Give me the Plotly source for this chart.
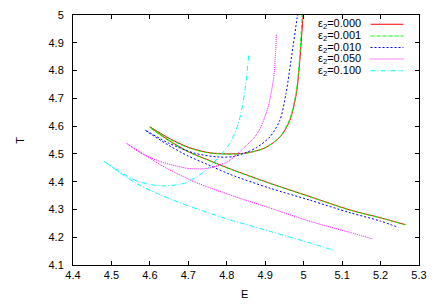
import plotly.graph_objects as go

# ---- data ----
labels = ["ε<sub>2</sub>=0.000", "ε<sub>2</sub>=0.001", "ε<sub>2</sub>=0.010",
          "ε<sub>2</sub>=0.050", "ε<sub>2</sub>=0.100"]

# eps2 = 0.000
E0_up = [4.600, 4.650, 4.700, 4.750, 4.800, 4.850, 4.900, 4.940, 4.964, 4.981, 4.990, 4.997, 5.001]
T0_up = [4.597, 4.556, 4.524, 4.505, 4.500, 4.503, 4.522, 4.563, 4.621, 4.717, 4.836, 4.970, 5.050]
E0_lo = [4.600, 4.650, 4.700, 4.741, 4.809, 4.913, 5.017, 5.121, 5.200, 5.265]
T0_lo = [4.597, 4.548, 4.508, 4.484, 4.446, 4.394, 4.346, 4.298, 4.270, 4.245]

# eps2 = 0.001
E1_up = [4.599, 4.650, 4.700, 4.750, 4.800, 4.850, 4.900, 4.939, 4.963, 4.980, 4.989, 4.995, 4.999]
T1_up = [4.596, 4.554, 4.522, 4.504, 4.499, 4.502, 4.522, 4.563, 4.622, 4.718, 4.838, 4.975, 5.050]
E1_lo = [4.599, 4.650, 4.700, 4.741, 4.809, 4.913, 5.017, 5.121, 5.200, 5.263]
T1_lo = [4.596, 4.546, 4.507, 4.483, 4.445, 4.393, 4.345, 4.297, 4.269, 4.245]

# eps2 = 0.010
E2_up = [4.588, 4.650, 4.715, 4.776, 4.815, 4.850, 4.878, 4.912, 4.938, 4.954, 4.967, 4.983, 4.986]
T2_up = [4.585, 4.538, 4.503, 4.489, 4.490, 4.505, 4.523, 4.561, 4.621, 4.717, 4.836, 4.990, 5.020]
E2_lo = [4.588, 4.650, 4.700, 4.750, 4.809, 4.913, 5.017, 5.121, 5.200, 5.247]
T2_lo = [4.585, 4.530, 4.492, 4.462, 4.426, 4.376, 4.333, 4.288, 4.258, 4.235]

# eps2 = 0.050
E3_up = [4.539, 4.580, 4.628, 4.698, 4.750, 4.802, 4.843, 4.879, 4.905, 4.922, 4.929]
T3_up = [4.538, 4.500, 4.472, 4.448, 4.448, 4.472, 4.520, 4.573, 4.657, 4.775, 4.929]
E3_lo = [4.539, 4.600, 4.628, 4.715, 4.809, 4.913, 5.017, 5.121, 5.180]
T3_lo = [4.538, 4.485, 4.460, 4.400, 4.352, 4.305, 4.257, 4.217, 4.194]

# eps2 = 0.100
E4_up = [4.479, 4.520, 4.567, 4.600, 4.637, 4.689, 4.741, 4.784, 4.808, 4.830, 4.846, 4.857]
T4_up = [4.475, 4.437, 4.402, 4.390, 4.385, 4.394, 4.436, 4.496, 4.538, 4.609, 4.717, 4.854]
E4_lo = [4.479, 4.520, 4.567, 4.628, 4.700, 4.763, 4.809, 4.913, 5.017, 5.080]
T4_lo = [4.475, 4.434, 4.392, 4.352, 4.313, 4.283, 4.262, 4.221, 4.179, 4.152]

x_ticks = [4.4, 4.5, 4.6, 4.7, 4.8, 4.9, 5.0, 5.1, 5.2, 5.3]
x_ticktext = ["4.4", "4.5", "4.6", "4.7", "4.8", "4.9", "5", "5.1", "5.2", "5.3"]
y_ticks = [4.1, 4.2, 4.3, 4.4, 4.5, 4.6, 4.7, 4.8, 4.9, 5.0]
y_ticktext = ["4.1", "4.2", "4.3", "4.4", "4.5", "4.6", "4.7", "4.8", "4.9", "5"]

# ---- styles ----
colors = ["#ff0000", "#00ff00", "#0000ff", "#ff00ff", "#00ffff"]
dashes = ["solid", "4px,2px", "2px,2px", "1px,1px", "5px,2px,1px,2px"]

series = [(E0_up, T0_up, E0_lo, T0_lo), (E1_up, T1_up, E1_lo, T1_lo),
          (E2_up, T2_up, E2_lo, T2_lo), (E3_up, T3_up, E3_lo, T3_lo),
          (E4_up, T4_up, E4_lo, T4_lo)]

fig = go.Figure()
for i, (eu, tu, el, tl) in enumerate(series):
    xs = list(reversed(eu)) + el[1:]
    ys = list(reversed(tu)) + tl[1:]
    fig.add_trace(go.Scatter(x=xs, y=ys, mode="lines",
                             line=dict(color=colors[i], width=1, dash=dashes[i],
                                       shape="spline", smoothing=0.8),
                             showlegend=False, hoverinfo="skip"))

font = dict(family="Liberation Sans, Arial, sans-serif", size=11, color="#000000")

# gnuplot-style key: text on the left, line sample on the right
row_y = [0.963, 0.916, 0.870, 0.824, 0.777]
for i, lab in enumerate(labels):
    fig.add_annotation(xref="paper", yref="paper", x=0.839, y=row_y[i],
                       text=lab, showarrow=False, xanchor="right", yanchor="middle",
                       font=font, bgcolor="rgba(0,0,0,0)")
    fig.add_shape(type="line", xref="paper", yref="paper",
                  x0=0.860, x1=0.955, y0=row_y[i], y1=row_y[i],
                  line=dict(color=colors[i], width=1, dash=dashes[i]))

# axis titles placed like gnuplot's
fig.add_annotation(xref="paper", yref="paper", x=0.495, y=-0.118, text="E",
                   showarrow=False, xanchor="center", yanchor="middle", font=font)
fig.add_annotation(xref="paper", yref="paper", x=-0.153, y=0.497, text="T",
                   showarrow=False, xanchor="center", yanchor="middle", font=font,
                   textangle=-90)

axis_common = dict(showline=True, linecolor="#000000", linewidth=1, mirror="ticks",
                   ticks="inside", ticklen=4, tickcolor="#000000", tickwidth=1,
                   showgrid=False, zeroline=False, tickfont=font, automargin=False)

fig.update_xaxes(range=[4.4, 5.3], tickvals=x_ticks, ticktext=x_ticktext, **axis_common)
fig.update_yaxes(range=[4.1, 5.0], tickvals=y_ticks, ticktext=y_ticktext,
                 ticklabelstandoff=6, **axis_common)

fig.update_layout(width=436, height=305, plot_bgcolor="white", paper_bgcolor="white",
                  margin=dict(l=73, r=17, t=15, b=40, autoexpand=False),
                  showlegend=False, font=font)

fig.write_html("out.html", config={"displayModeBar": False},
               post_script="document.body.style.margin='0';")
